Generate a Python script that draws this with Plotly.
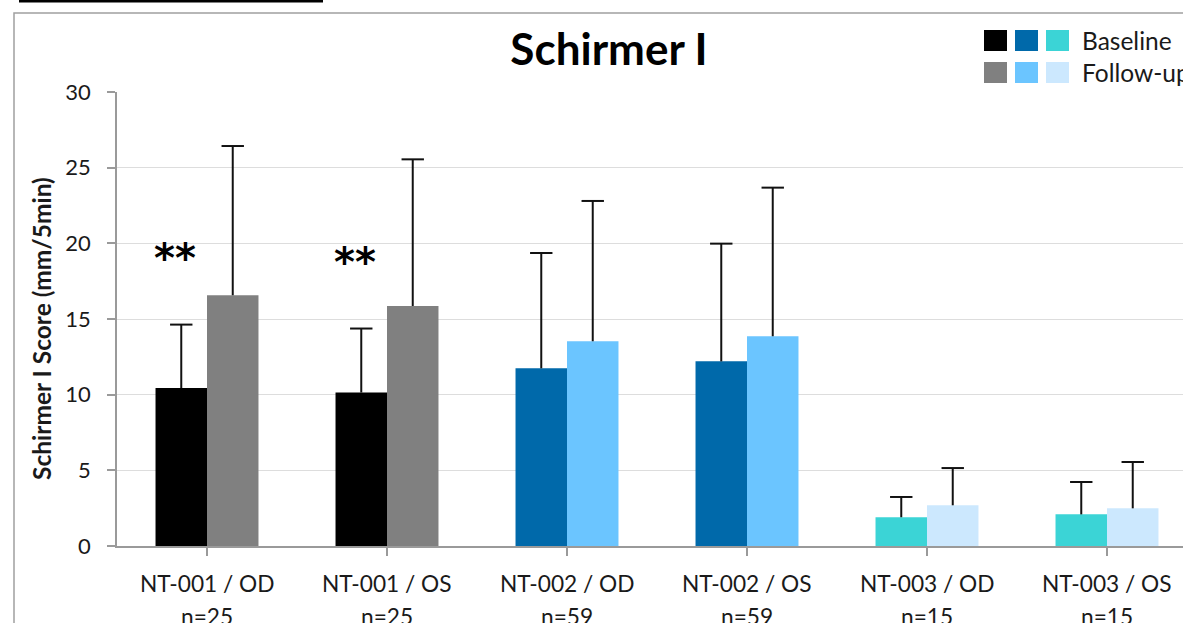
import plotly.graph_objects as go

# ---- data ----
categories = ["NT-001 / OD", "NT-001 / OS", "NT-002 / OD", "NT-002 / OS", "NT-003 / OD", "NT-003 / OS"]
n_labels = ["n=25", "n=25", "n=59", "n=59", "n=15", "n=15"]
baseline_mean = [10.44, 10.14, 11.74, 12.20, 1.90, 2.09]
baseline_sd = [4.19, 4.23, 7.62, 7.78, 1.34, 2.14]
followup_mean = [16.57, 15.86, 13.53, 13.86, 2.69, 2.49]
followup_sd = [9.86, 9.69, 9.27, 9.82, 2.46, 3.06]
significance = ["**", "**", "", "", "", ""]
y_ticks = [0, 5, 10, 15, 20, 25, 30]

# per-study colours (baseline / follow-up)
baseline_colors = ["#000000", "#000000", "#0069AA", "#0069AA", "#3BD4D6", "#3BD4D6"]
followup_colors = ["#808080", "#808080", "#6BC5FF", "#6BC5FF", "#CCE8FE", "#CCE8FE"]
legend_rows = [("Baseline", ["#000000", "#0069AA", "#3BD4D6"]),
               ("Follow-up", ["#808080", "#6BC5FF", "#CCE8FE"])]

# ---- page geometry (pixels) ----
W, H = 1183, 623
ML, MR, MT, MB = 117, 0, 92, 77
PW, PH = W - ML - MR, H - MT - MB
CAT_PX = 180  # width of one category slot
BAR_W = 0.286  # bar width in category units


def fx(px):
    return (px - ML) / PW


def fy(py):
    return (H - MB - py) / PH


FONT = "Lato, 'Open Sans', sans-serif"
TXT = "#1a1a1a"
WHISKER = "#111111"

x_idx = list(range(len(categories)))
err_style = dict(type="data", symmetric=False, arrayminus=[0] * len(categories),
                 color=WHISKER, thickness=2, width=0)

fig = go.Figure()
series = [
    ("Baseline", baseline_mean, baseline_sd, baseline_colors, -BAR_W),
    ("Follow-up", followup_mean, followup_sd, followup_colors, 0.0),
]
for name, mean, sd, colors, offset in series:
    fig.add_trace(go.Bar(
        name=name, x=x_idx, y=mean, width=BAR_W, offset=offset,
        marker=dict(color=colors, line=dict(width=0)),
        error_y=dict(array=sd, **err_style),
    ))
# whisker caps (only at the upper end)
for name, mean, sd, colors, offset in series:
    fig.add_trace(go.Scatter(
        x=[i + offset + BAR_W / 2 for i in x_idx],
        y=[m + s for m, s in zip(mean, sd)],
        mode="markers", hoverinfo="skip", showlegend=False,
        marker=dict(symbol="line-ew", size=16, line=dict(color=WHISKER, width=2)),
    ))

x_max = -0.5 + PW / CAT_PX

fig.update_layout(
    width=W, height=H,
    margin=dict(l=ML, r=MR, t=MT, b=MB, pad=0),
    paper_bgcolor="white", plot_bgcolor="white",
    barmode="overlay",
    showlegend=False,
    font=dict(family=FONT, color=TXT),
    title=dict(text="<b>Schirmer I</b>", x=609 / W, y=1 - 50 / H,
               xanchor="center", yanchor="middle",
               font=dict(family=FONT, size=44, color="#000000")),
    xaxis=dict(
        range=[-0.5, x_max], tickmode="array", tickvals=x_idx,
        showticklabels=False, showgrid=False, zeroline=False,
        showline=True, linecolor="#9a9a9a", linewidth=1.5,
        ticks="outside", ticklen=8, tickcolor="#9a9a9a", tickwidth=1.5,
        tickson="boundaries",
    ),
    yaxis=dict(
        range=[0, 30], tickvals=y_ticks,
        showgrid=True, gridcolor="#dddddd", gridwidth=1, zeroline=False,
        showline=True, linecolor="#9a9a9a", linewidth=1.5,
        ticks="outside", ticklen=8, tickcolor="#9a9a9a", tickwidth=1.5,
        tickfont=dict(family=FONT, size=22, color=TXT),
        ticklabelstandoff=12,
    ),
)

annotations = []
# y-axis title
annotations.append(dict(
    text="<b>Schirmer I Score (mm/5min)</b>", textangle=-90,
    xref="paper", yref="paper", x=fx(41), y=fy(329),
    xanchor="center", yanchor="middle", showarrow=False,
    font=dict(family=FONT, size=24.5, color=TXT),
))
# category labels (two lines)
for i, (cat, n) in enumerate(zip(categories, n_labels)):
    annotations.append(dict(text=cat, xref="x", yref="paper", x=i, y=fy(583),
                            xanchor="center", yanchor="middle", showarrow=False,
                            font=dict(family=FONT, size=22.7, color=TXT)))
    annotations.append(dict(text=n, xref="x", yref="paper", x=i, y=fy(616),
                            xanchor="center", yanchor="middle", showarrow=False,
                            font=dict(family=FONT, size=22.7, color=TXT)))
# significance markers above the baseline bars
for i, mark in enumerate(significance):
    if mark:
        annotations.append(dict(text=f"<b>{mark}</b>", xref="x", yref="y",
                                x=i - 0.18, y=baseline_mean[i] + baseline_sd[i] + 4.4,
                                xanchor="center", yanchor="middle", showarrow=False,
                                font=dict(family="DejaVu Sans", size=40, color="#000000")))

shapes = []
# chart-area border
shapes.append(dict(type="rect", xref="paper", yref="paper",
                   x0=fx(14), x1=fx(W + 20), y0=fy(H + 20), y1=fy(13),
                   line=dict(color="#a0a0a0", width=1.5), fillcolor="rgba(0,0,0,0)",
                   layer="below"))
# rule above the chart
shapes.append(dict(type="rect", xref="paper", yref="paper",
                   x0=fx(19), x1=fx(323), y0=fy(2.5), y1=fy(-2),
                   line=dict(width=0), fillcolor="#000000"))
# legend swatches and labels
row_tops = [30, 62]
col_lefts = [984, 1015, 1046]
for (label, cols), top in zip(legend_rows, row_tops):
    for c, left in zip(cols, col_lefts):
        shapes.append(dict(type="rect", xref="paper", yref="paper",
                           x0=fx(left), x1=fx(left + 23), y0=fy(top + 21), y1=fy(top),
                           line=dict(width=0), fillcolor=c))
    annotations.append(dict(text=label, xref="paper", yref="paper",
                            x=fx(1080), y=fy(top + 10.5), xanchor="left", yanchor="middle",
                            showarrow=False, font=dict(family=FONT, size=24.5, color=TXT)))

fig.update_layout(annotations=annotations, shapes=shapes)

fig.write_html("out.html")
